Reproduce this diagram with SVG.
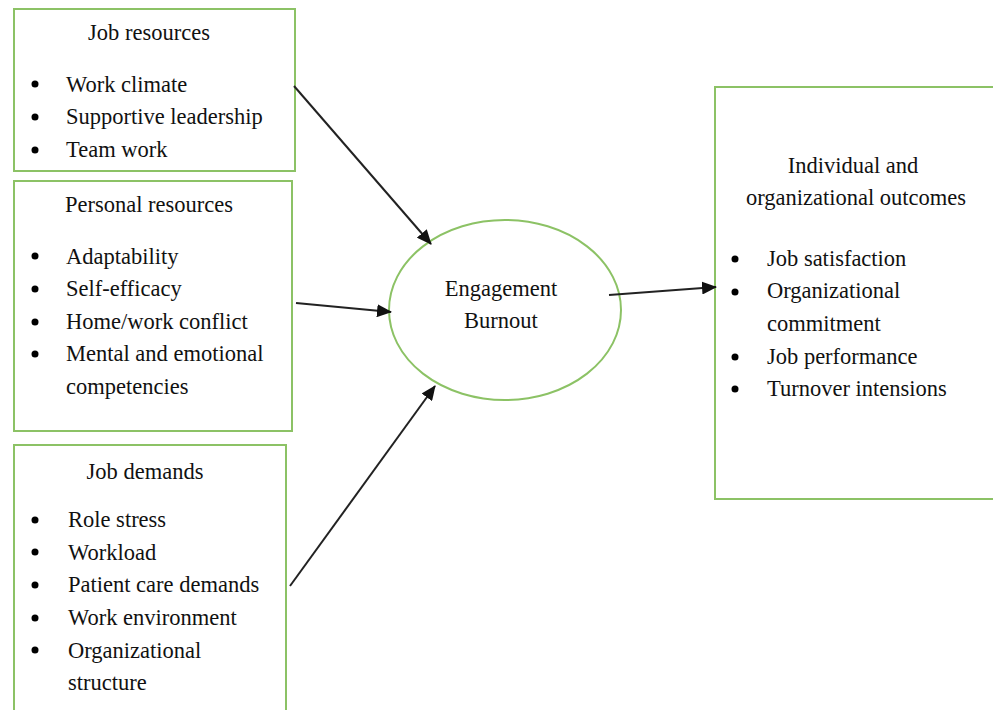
<svg xmlns="http://www.w3.org/2000/svg" width="993" height="710" viewBox="0 0 993 710">
  <style>
    .box { fill: #ffffff; stroke: #8cc265; stroke-width: 2; }
    .txt { font-family: "Liberation Serif", "Times New Roman", serif; font-size: 22.5px; fill: #111111; }
    .mid { text-anchor: middle; }
    .dot { fill: #000000; }
    .conn { stroke: #222222; stroke-width: 2; fill: none; marker-end: url(#arrow); }
  </style>
  <defs>
    <marker id="arrow" markerWidth="15" markerHeight="13" refX="14" refY="6.5" orient="auto" markerUnits="userSpaceOnUse" viewBox="0 0 15 13">
      <path d="M0,0 L15,6.5 L0,13 Z" fill="#111111"/>
    </marker>
  </defs>
  <rect width="993" height="710" fill="#ffffff"/>

  <g id="job-resources">
    <rect class="box" x="14" y="9" width="281" height="162"/>
    <text class="txt mid" x="149" y="40">Job resources</text>
    <circle class="dot" cx="35" cy="84" r="3.5"/>
    <text class="txt" x="66" y="92">Work climate</text>
    <circle class="dot" cx="35" cy="117" r="3.5"/>
    <text class="txt" x="66" y="124">Supportive leadership</text>
    <circle class="dot" cx="35" cy="150" r="3.5"/>
    <text class="txt" x="66" y="157">Team work</text>
  </g>

  <g id="personal-resources">
    <rect class="box" x="14" y="181" width="278" height="250"/>
    <text class="txt mid" x="149" y="212">Personal resources</text>
    <circle class="dot" cx="35" cy="256" r="3.5"/>
    <text class="txt" x="66" y="264">Adaptability</text>
    <circle class="dot" cx="35" cy="289" r="3.5"/>
    <text class="txt" x="66" y="296">Self-efficacy</text>
    <circle class="dot" cx="35" cy="322" r="3.5"/>
    <text class="txt" x="66" y="329">Home/work conflict</text>
    <circle class="dot" cx="35" cy="354" r="3.5"/>
    <text class="txt" x="66" y="361">Mental and emotional</text>
    <text class="txt" x="66" y="394">competencies</text>
  </g>

  <g id="job-demands">
    <rect class="box" x="14" y="445" width="272" height="280"/>
    <text class="txt mid" x="145" y="479">Job demands</text>
    <circle class="dot" cx="35" cy="520" r="3.5"/>
    <text class="txt" x="68" y="527">Role stress</text>
    <circle class="dot" cx="35" cy="552" r="3.5"/>
    <text class="txt" x="68" y="560">Workload</text>
    <circle class="dot" cx="35" cy="585" r="3.5"/>
    <text class="txt" x="68" y="592">Patient care demands</text>
    <circle class="dot" cx="35" cy="618" r="3.5"/>
    <text class="txt" x="68" y="625">Work environment</text>
    <circle class="dot" cx="35" cy="650" r="3.5"/>
    <text class="txt" x="68" y="658">Organizational</text>
    <text class="txt" x="68" y="690">structure</text>
  </g>

  <g id="engagement-burnout">
    <ellipse class="box" cx="505" cy="310" rx="116" ry="90"/>
    <text class="txt mid" x="501" y="296">Engagement</text>
    <text class="txt mid" x="501" y="328">Burnout</text>
  </g>

  <g id="outcomes">
    <rect class="box" x="715" y="87" width="300" height="412"/>
    <text class="txt mid" x="853" y="173">Individual and</text>
    <text class="txt mid" x="856" y="205">organizational outcomes</text>
    <circle class="dot" cx="735" cy="259" r="3.5"/>
    <text class="txt" x="767" y="266">Job satisfaction</text>
    <circle class="dot" cx="735" cy="292" r="3.5"/>
    <text class="txt" x="767" y="298">Organizational</text>
    <text class="txt" x="767" y="331">commitment</text>
    <circle class="dot" cx="735" cy="357" r="3.5"/>
    <text class="txt" x="767" y="364">Job performance</text>
    <circle class="dot" cx="735" cy="389" r="3.5"/>
    <text class="txt" x="767" y="396">Turnover intensions</text>
  </g>

  <g id="connectors">
    <line class="conn" x1="294" y1="86" x2="431" y2="244"/>
    <line class="conn" x1="296" y1="303" x2="391" y2="312"/>
    <line class="conn" x1="290" y1="586" x2="435" y2="386"/>
    <line class="conn" x1="609" y1="295" x2="716" y2="287"/>
  </g>
</svg>
